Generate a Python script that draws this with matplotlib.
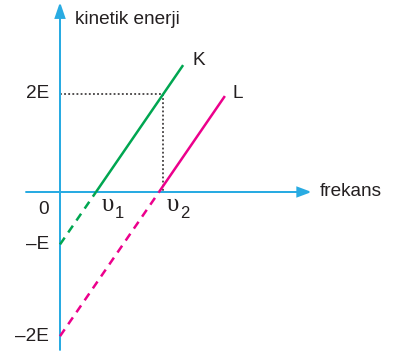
import matplotlib
matplotlib.use("Agg")
import matplotlib.pyplot as plt
import numpy as np

# Data (schematic units: frequency in units of v1, energy in units of E)
v1 = 1.0
v2 = 2.75
slope = 1.07
k_end = 3.42
l_end = 4.58
y_ticks = [2.0, -1.07, -2.94]
y_tick_labels = ["2E", "\u2013E", "\u20132E"]
x_lim = (-1.667, 9.278)
y_lim = (-3.347, 3.918)

blue = "#29abe2"
green = "#00a651"
magenta = "#ec008c"
txt = "#231f20"

fig = plt.figure(figsize=(3.94, 3.56), dpi=100)
ax = fig.add_axes([0, 0, 1, 1])
ax.set_xlim(*x_lim)
ax.set_ylim(*y_lim)
ax.axis("off")

# axes with arrows
ax.arrow(-0.94, 0, 6.92 + 0.94, 0, color=blue, lw=1.3, head_width=0.18,
         head_length=0.33, length_includes_head=True, zorder=2)
ax.arrow(0, -3.22, 0, 3.82 + 3.22, color=blue, lw=1.3, head_width=0.25,
         head_length=0.27, length_includes_head=True, zorder=2)

def line(x0, x1, x_int, color, ls):
    xs = np.array([x0, x1])
    ax.plot(xs, slope * (xs - x_int), color=color, lw=1.8, ls=ls,
            solid_capstyle="butt", dash_capstyle="butt", zorder=3)

dash = (0, (3.3, 2.5))
line(0, v1, v1, green, dash)
line(v1, k_end, v1, green, "-")
line(0, v2, v2, magenta, dash)
line(v2, l_end, v2, magenta, "-")

# dotted guide lines
x_int2 = v1 + 2.0 / slope
ax.plot([0, x_int2], [2, 2], color=txt, lw=1.1, ls=(0, (1.2, 1.5)), zorder=1)
ax.plot([x_int2, x_int2], [2, 0], color=txt, lw=1.1, ls=(0, (1.2, 1.5)), zorder=1)

fs = 13.7
fam = ["Liberation Sans", "DejaVu Sans"]
for yv, lab in zip(y_ticks, y_tick_labels):
    ax.text(-0.3, yv, lab, ha="right", va="center", fontsize=fs, color=txt, family=fam)
ax.text(-0.47, -0.36, "0", ha="center", va="center", fontsize=fs, color=txt, family=fam)

ax.text(0.42, 3.53, "kinetik enerji", ha="left", va="center", fontsize=fs, color=txt, family=fam)
ax.text(7.22, 0.0, "frekans", ha="left", va="center", fontsize=fs, color=txt, family=fam)
ax.text(k_end + 0.25, slope * (k_end - v1) + 0.1, "K", ha="left", va="center", fontsize=fs, color=txt, family=fam)
ax.text(l_end + 0.22, slope * (l_end - v2) + 0.06, "L", ha="left", va="center", fontsize=fs, color=txt, family=fam)

serif = ["Liberation Serif", "DejaVu Serif"]
for xv, sub, off in [(v1, "1", 0.15), (v2, "2", 0.22)]:
    ax.text(xv + off, -0.26, "\u03c5", ha="left", va="center", fontsize=18, color=txt, family=serif)
    ax.text(xv + off + 0.38, -0.43, sub, ha="left", va="center", fontsize=12, color=txt, family=fam)

fig.savefig("out.png", dpi=100)
